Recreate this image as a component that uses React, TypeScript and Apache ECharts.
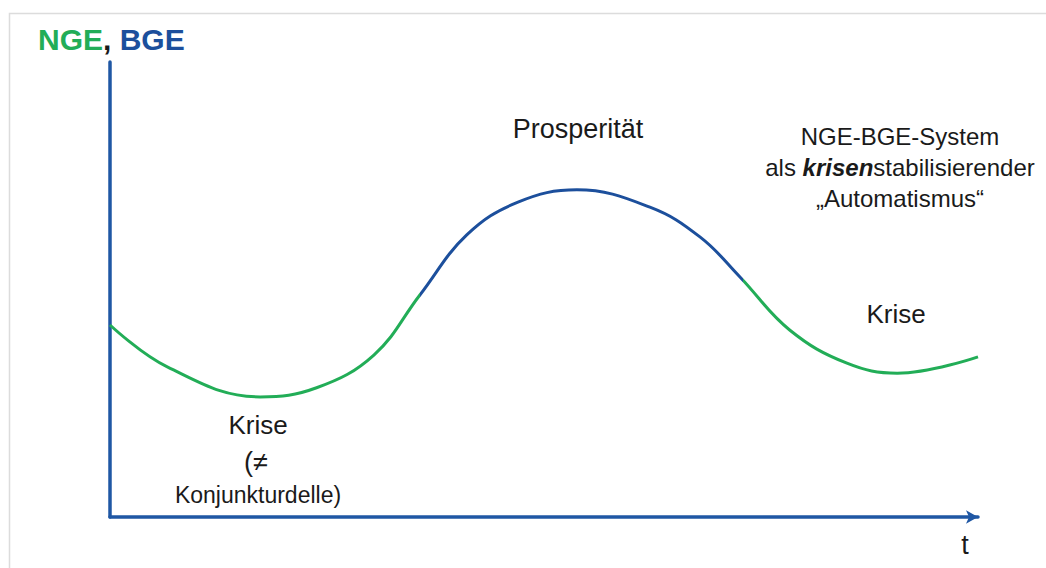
import React, { useEffect, useRef } from "react";
import * as echarts from "echarts";

// Time axis (conceptual units) and economic level of the NGE/BGE cycle
const tValues = [0, 6.6, 17.3, 23.8, 30.4, 35.7, 41.1, 47.0, 53.8, 62.2, 68.0, 72.6, 78.3, 84.9, 90.7, 100];
const levelValues = [42.2, 33.0, 26.4, 28.4, 35.6, 48.8, 62.0, 69.2, 71.9, 68.1, 61.5, 52.7, 41.1, 33.8, 31.6, 35.2];
// Phase boundaries on the time axis (crisis -> prosperity -> crisis)
const phaseBounds = [35.7, 72.9];

const GREEN = "#22ad57";
const BLUE = "#1c4f9c";
const AXIS_BLUE = "#1f57a4";
const TEXT = "#1a1a1a";
const FONT = "'Liberation Sans', Arial, Helvetica, sans-serif";

export default function App() {
  const ref = useRef<HTMLDivElement>(null);
  useEffect(() => {
    if (!ref.current) return;
    const chart = echarts.init(ref.current, null, { renderer: "svg" });
    const data = tValues.map((t, i) => [t, levelValues[i]]);
    chart.setOption({
      animation: false,
      backgroundColor: "#ffffff",
      grid: { left: 110, right: 68, top: 62, bottom: 51, containLabel: false },
      xAxis: {
        type: "value",
        min: 0,
        max: 100,
        axisLine: {
          show: true,
          onZero: false,
          symbol: ["none", "arrow"],
          symbolSize: [10, 12],
          symbolOffset: [0, 0],
          lineStyle: { color: AXIS_BLUE, width: 3.5 },
        },
        axisTick: { show: false },
        axisLabel: { show: false },
        splitLine: { show: false },
      },
      yAxis: {
        type: "value",
        min: 0,
        max: 100,
        axisLine: { show: true, onZero: false, lineStyle: { color: AXIS_BLUE, width: 3.5 } },
        axisTick: { show: false },
        axisLabel: { show: false },
        splitLine: { show: false },
      },
      visualMap: {
        show: false,
        type: "piecewise",
        dimension: 0,
        seriesIndex: 0,
        pieces: [
          { lt: phaseBounds[0], color: GREEN },
          { gte: phaseBounds[0], lte: phaseBounds[1], color: BLUE },
          { gt: phaseBounds[1], color: GREEN },
        ],
      },
      series: [
        {
          type: "line",
          data,
          smooth: 0.4,
          showSymbol: false,
          symbol: "none",
          lineStyle: { width: 3 },
          silent: true,
        },
      ],
      graphic: [
        {
          type: "rect",
          shape: { x: 9.5, y: 13.5, width: 1200, height: 700 },
          style: { fill: "none", stroke: "#dcdcdc", lineWidth: 1.5 },
          silent: true,
          z: -1,
        },
        {
          type: "text",
          x: 38,
          y: 39,
          style: {
            text: "{g|NGE}{k|,} {b|BGE}",
            verticalAlign: "middle",
            align: "left",
            font: `bold 30px ${FONT}`,
            rich: {
              g: { fill: GREEN, fontSize: 30, fontWeight: "bold", fontFamily: FONT },
              k: { fill: TEXT, fontSize: 30, fontWeight: "bold", fontFamily: FONT },
              b: { fill: BLUE, fontSize: 30, fontWeight: "bold", fontFamily: FONT },
            },
          },
        },
        {
          type: "text",
          x: 578,
          y: 129,
          style: { text: "Prosperität", align: "center", verticalAlign: "middle", fill: TEXT, fontSize: 27, fontFamily: FONT },
        },
        {
          type: "text",
          x: 258,
          y: 425,
          style: { text: "Krise", align: "center", verticalAlign: "middle", fill: TEXT, fontSize: 26, fontFamily: FONT },
        },
        {
          type: "text",
          x: 256,
          y: 462,
          style: { text: "(≠", align: "center", verticalAlign: "middle", fill: TEXT, fontSize: 27, fontFamily: FONT },
        },
        {
          type: "text",
          x: 258,
          y: 495,
          style: { text: "Konjunkturdelle)", align: "center", verticalAlign: "middle", fill: TEXT, fontSize: 23, fontFamily: FONT },
        },
        {
          type: "text",
          x: 896,
          y: 314,
          style: { text: "Krise", align: "center", verticalAlign: "middle", fill: TEXT, fontSize: 26, fontFamily: FONT },
        },
        {
          type: "text",
          x: 965,
          y: 545,
          style: { text: "t", align: "center", verticalAlign: "middle", fill: TEXT, fontSize: 27, fontFamily: FONT },
        },
        {
          type: "text",
          x: 900,
          y: 167,
          style: {
            text: "NGE-BGE-System\nals {bi|krisen}stabilisierender\n„Automatismus“",
            align: "center",
            verticalAlign: "middle",
            fill: TEXT,
            fontSize: 24,
            fontFamily: FONT,
            lineHeight: 31,
            rich: {
              bi: { fill: TEXT, fontSize: 24, fontFamily: FONT, fontWeight: "bold", fontStyle: "italic", lineHeight: 31 },
            },
          },
        },
      ],
    });
    return () => chart.dispose();
  }, []);
  return (
    <div
      ref={ref}
      style={{ position: "fixed", left: 0, top: 0, width: 1046, height: 568 }}
    />
  );
}
